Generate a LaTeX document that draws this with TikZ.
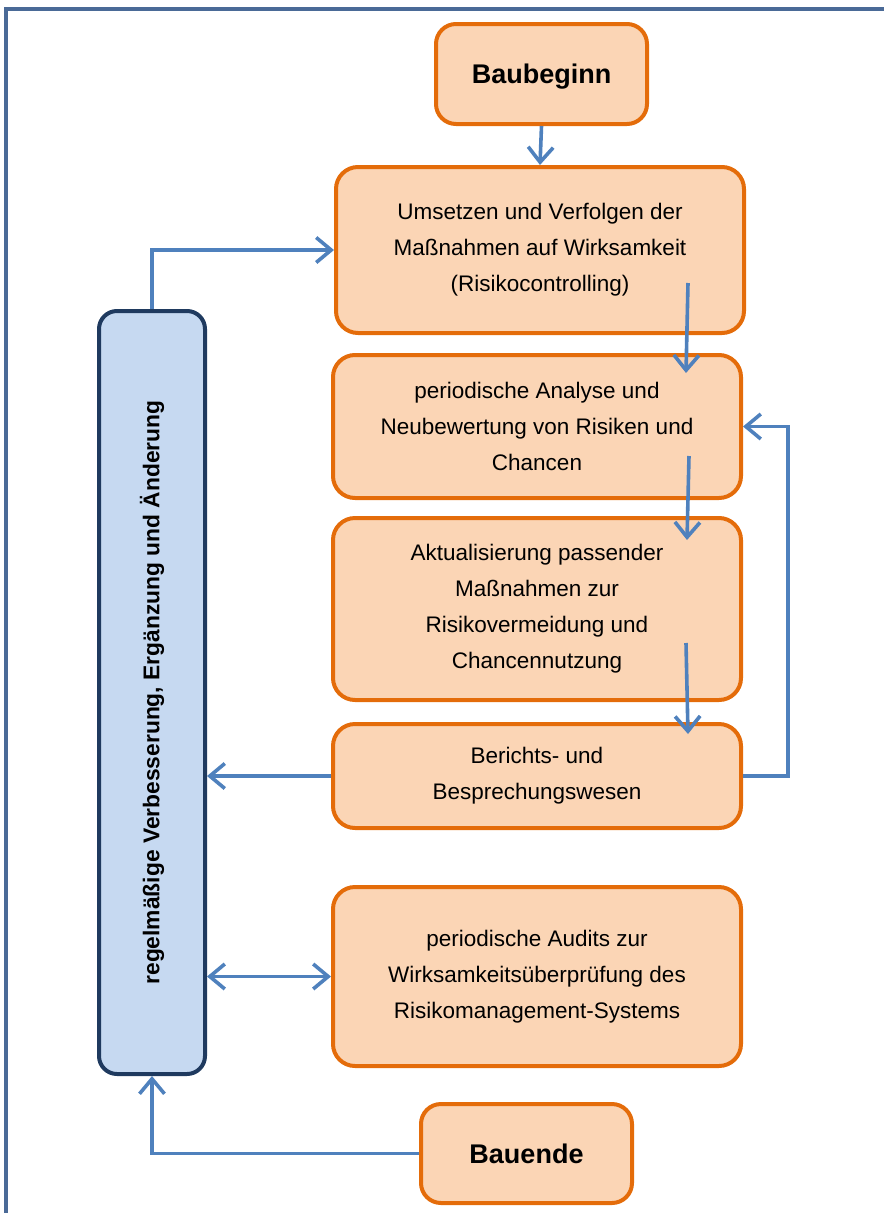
\documentclass[tikz,border=0pt]{standalone}
\usepackage{fontspec}
\setmainfont{Liberation Sans}
\usetikzlibrary{arrows.meta}

\definecolor{boxfill}{HTML}{FBD5B5}
\definecolor{boxline}{HTML}{E46C0A}
\definecolor{barfill}{HTML}{C6D9F1}
\definecolor{barline}{HTML}{1F3A5F}
\definecolor{flow}{HTML}{4F81BD}
\definecolor{framecol}{HTML}{4A6A97}

\begin{document}
\begin{tikzpicture}[x=1pt,y=-1pt,
  stepbox/.style={draw=boxline, fill=boxfill, line width=4pt,
    rounded corners=22pt, align=center, inner sep=0pt,
    font=\fontsize{22.5}{36}\selectfont},
  endbox/.style={stepbox, rounded corners=20pt, text depth=0pt,
    font=\fontsize{27}{32}\selectfont\bfseries},
  barbox/.style={draw=barline, fill=barfill, line width=4pt,
    rounded corners=18pt, inner sep=0pt},
  bartext/.style={rotate=90, font=\fontsize{22.8}{27}\selectfont\bfseries},
  flowline/.style={draw=flow, line width=3.6pt,
    -{Straight Barb[length=15pt,width=25pt,line width=3.6pt]}},
  flowboth/.style={draw=flow, line width=3.6pt,
    {Straight Barb[length=15pt,width=25pt,line width=3.6pt]}-{Straight Barb[length=15pt,width=25pt,line width=3.6pt]}}
]
\useasboundingbox (0,0) rectangle (884,1213);

% outer frame (only top and left edges fall inside the page)
\draw[framecol, line width=4pt] (6,1213) -- (6,9) -- (884,9);

% process steps
\node[endbox, minimum width=211pt, minimum height=100pt] (start) at (541.5,74) {Baubeginn};
\node[stepbox, minimum width=408pt, minimum height=166pt] (b1) at (540,250)
  {Umsetzen und Verfolgen der\\ Maßnahmen auf Wirksamkeit\\ (Risikocontrolling)};
\node[stepbox, minimum width=408pt, minimum height=143pt] (b2) at (537,426.5)
  {periodische Analyse und\\ Neubewertung von Risiken und\\ Chancen};
\node[stepbox, minimum width=408pt, minimum height=182pt] (b3) at (537,609)
  {Aktualisierung passender\\ Maßnahmen zur\\ Risikovermeidung und\\ Chancennutzung};
\node[stepbox, minimum width=408pt, minimum height=104pt] (b4) at (537,776)
  {Berichts- und\\ Besprechungswesen};
\node[stepbox, minimum width=408pt, minimum height=179pt] (b5) at (537,976.5)
  {periodische Audits zur\\ Wirksamkeitsüberprüfung des\\ Risikomanagement-Systems};
\node[endbox, minimum width=211pt, minimum height=99pt] (end) at (526.5,1153.5) {Bauende};

% improvement bar
\node[barbox, minimum width=106pt, minimum height=763pt] (bar) at (152,692.5) {};
\node[bartext] (barlabel) at (bar.center)
  {regelmäßige Verbesserung, Ergänzung und Änderung};

% inner flow arrows between the stacked steps
\coordinate (s1) at (688,283);  \coordinate (e1) at (686,373);
\coordinate (s2) at (689,456);  \coordinate (e2) at (687,540);
\coordinate (s3) at (686,643);  \coordinate (e3) at (688,734);

\draw[flowline] (start.south) -- (b1.north);
\draw[flowline] (s1) -- (e1);
\draw[flowline] (s2) -- (e2);
\draw[flowline] (s3) -- (e3);

% feedback loop from reporting back to analysis
\draw[flowline] (b4.east) -- ++(45,0) |- (b2.east);

% links to and from the improvement bar
\draw[flowline] (bar.north) |- (b1.west);
\draw[flowline] (b4.west) -- (b4.west -| bar.east);
\draw[flowboth] (b5.west) -- (b5.west -| bar.east);
\draw[flowline] (end.west) -| (bar.south);
\end{tikzpicture}
\end{document}
